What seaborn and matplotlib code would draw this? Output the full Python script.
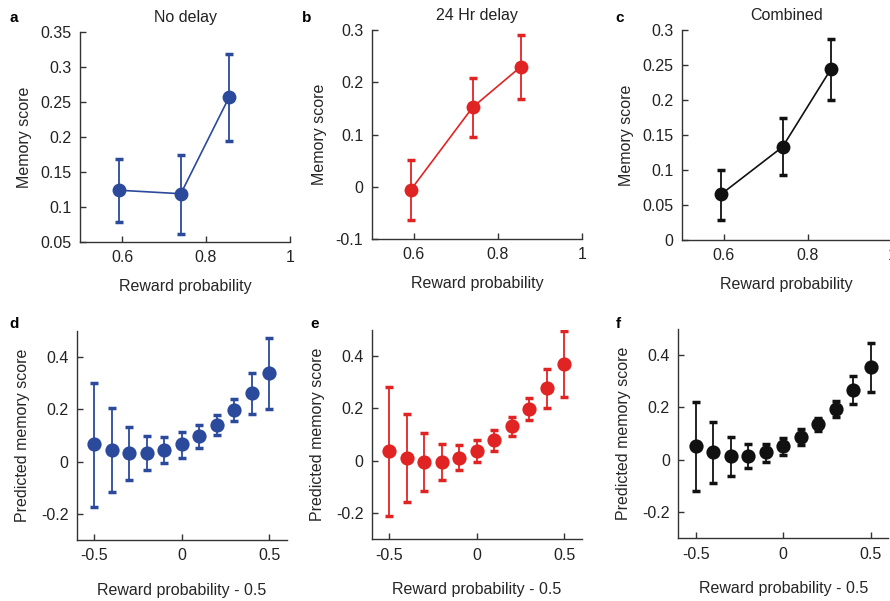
import numpy as np
import pandas as pd
import matplotlib
matplotlib.use("Agg")
import matplotlib.pyplot as plt
import seaborn as sns

# ---- data ----
reward_prob = [0.593, 0.740, 0.855]

nodelay_mean = [0.124, 0.119, 0.257]
nodelay_lo = [0.078, 0.062, 0.194]
nodelay_hi = [0.169, 0.175, 0.318]

delay_mean = [-0.006, 0.152, 0.230]
delay_lo = [-0.064, 0.095, 0.168]
delay_hi = [0.051, 0.208, 0.290]

comb_mean = [0.065, 0.133, 0.244]
comb_lo = [0.029, 0.093, 0.200]
comb_hi = [0.100, 0.174, 0.287]

centered_prob = [-0.5, -0.4, -0.3, -0.2, -0.1, 0.0, 0.1, 0.2, 0.3, 0.4, 0.5]

pred_nodelay = [0.065, 0.043, 0.033, 0.033, 0.043, 0.065, 0.099, 0.141, 0.196, 0.261, 0.339]
pred_nodelay_lo = [-0.173, -0.117, -0.070, -0.032, -0.006, 0.015, 0.051, 0.103, 0.153, 0.182, 0.201]
pred_nodelay_hi = [0.300, 0.203, 0.132, 0.097, 0.093, 0.113, 0.141, 0.177, 0.237, 0.339, 0.473]

pred_delay = [0.038, 0.011, -0.003, -0.003, 0.011, 0.038, 0.078, 0.132, 0.197, 0.277, 0.371]
pred_delay_lo = [-0.211, -0.159, -0.114, -0.073, -0.037, -0.004, 0.038, 0.096, 0.156, 0.201, 0.243]
pred_delay_hi = [0.282, 0.180, 0.108, 0.066, 0.059, 0.080, 0.118, 0.167, 0.239, 0.351, 0.495]

pred_comb = [0.051, 0.028, 0.015, 0.015, 0.028, 0.052, 0.089, 0.137, 0.196, 0.267, 0.353]
pred_comb_lo = [-0.121, -0.089, -0.060, -0.032, -0.008, 0.019, 0.057, 0.112, 0.165, 0.213, 0.260]
pred_comb_hi = [0.222, 0.144, 0.089, 0.061, 0.061, 0.085, 0.117, 0.161, 0.226, 0.321, 0.445]

BLUE = "#2b4a9b"
RED = "#e02424"
BLACK = "#111111"

sns.set_theme(style="ticks")
plt.rcParams.update({
    "font.family": ["Liberation Sans", "DejaVu Sans"],
    "axes.edgecolor": "#333333",
    "axes.linewidth": 1.0,
    "xtick.direction": "in",
    "ytick.direction": "in",
    "xtick.major.size": 4,
    "ytick.major.size": 4,
    "xtick.color": "#333333",
    "ytick.color": "#333333",
    "xtick.labelcolor": "#222222",
    "ytick.labelcolor": "#222222",
    "xtick.labelsize": 11.5,
    "ytick.labelsize": 11.5,
    "axes.labelsize": 11.5,
    "text.color": "#222222",
})

fig = plt.figure(figsize=(8.9, 6.01), dpi=100)

positions = {
    "a": [0.0899, 0.5973, 0.236, 0.3494],
    "b": [0.4176, 0.6023, 0.2363, 0.3478],
    "c": [0.7660, 0.6007, 0.2360, 0.3494],
    "d": [0.0862, 0.1015, 0.2360, 0.3483],
    "e": [0.4176, 0.1027, 0.2360, 0.3483],
    "f": [0.7621, 0.1043, 0.2360, 0.3483],
}


def style_axis(ax):
    sns.despine(ax=ax)
    ax.tick_params(width=1.0, pad=6)


def top_panel(key, mean, lo, hi, color, title, ylim, yticks, yticklabels):
    ax = fig.add_axes(positions[key])
    df = pd.DataFrame({"p": reward_prob, "score": mean})
    yerr = [np.array(mean) - np.array(lo), np.array(hi) - np.array(mean)]
    ax.errorbar(reward_prob, mean, yerr=yerr, fmt="none", ecolor=color,
                elinewidth=1.3, capsize=3, capthick=2.5, zorder=2)
    sns.lineplot(data=df, x="p", y="score", ax=ax, color=color, lw=1.2,
                 marker="o", markersize=10, markeredgewidth=0, zorder=3)
    ax.set_xlim(0.5, 1.0)
    ax.set_ylim(*ylim)
    ax.set_xticks([0.6, 0.8, 1.0])
    ax.set_xticklabels(["0.6", "0.8", "1"])
    ax.set_yticks(yticks)
    ax.set_yticklabels(yticklabels)
    ax.set_xlabel("Reward probability", labelpad=10)
    ax.set_ylabel("Memory score", labelpad=6)
    ax.set_title(title, fontsize=11.5, pad=7)
    style_axis(ax)
    return ax


def bottom_panel(key, mean, lo, hi, color):
    ax = fig.add_axes(positions[key])
    df = pd.DataFrame({"p": centered_prob, "score": mean})
    yerr = [np.array(mean) - np.array(lo), np.array(hi) - np.array(mean)]
    ax.errorbar(centered_prob, mean, yerr=yerr, fmt="none", ecolor=color,
                elinewidth=1.3, capsize=3, capthick=2.5, zorder=2)
    sns.scatterplot(data=df, x="p", y="score", ax=ax, color=color, s=105,
                    linewidth=0, zorder=3)
    ax.set_xlim(-0.6, 0.6)
    ax.set_ylim(-0.3, 0.5)
    ax.set_xticks([-0.5, 0, 0.5])
    ax.set_xticklabels(["-0.5", "0", "0.5"])
    ax.set_yticks([-0.2, 0, 0.2, 0.4])
    ax.set_yticklabels(["-0.2", "0", "0.2", "0.4"])
    ax.tick_params(axis="x", pad=9)
    ax.set_xlabel("Reward probability - 0.5", labelpad=14)
    ax.set_ylabel("Predicted memory score", labelpad=8)
    style_axis(ax)
    return ax


top_panel("a", nodelay_mean, nodelay_lo, nodelay_hi, BLUE, "No delay",
          (0.05, 0.35), [0.05, 0.1, 0.15, 0.2, 0.25, 0.3, 0.35],
          ["0.05", "0.1", "0.15", "0.2", "0.25", "0.3", "0.35"])
top_panel("b", delay_mean, delay_lo, delay_hi, RED, "24 Hr delay",
          (-0.1, 0.3), [-0.1, 0, 0.1, 0.2, 0.3],
          ["-0.1", "0", "0.1", "0.2", "0.3"])
top_panel("c", comb_mean, comb_lo, comb_hi, BLACK, "Combined",
          (0, 0.3), [0, 0.05, 0.1, 0.15, 0.2, 0.25, 0.3],
          ["0", "0.05", "0.1", "0.15", "0.2", "0.25", "0.3"])

bottom_panel("d", pred_nodelay, pred_nodelay_lo, pred_nodelay_hi, BLUE)
bottom_panel("e", pred_delay, pred_delay_lo, pred_delay_hi, RED)
bottom_panel("f", pred_comb, pred_comb_lo, pred_comb_hi, BLACK)

# panel letters
letters = [("a", 9, 18), ("b", 302, 18), ("c", 615, 18),
           ("d", 9, 324), ("e", 310, 324), ("f", 616, 324)]
for letter, px, py in letters:
    fig.text(px / 890, 1 - py / 601, letter, fontsize=11, fontweight="bold",
             ha="left", va="center", color="black")

fig.savefig("out.png", dpi=100)
